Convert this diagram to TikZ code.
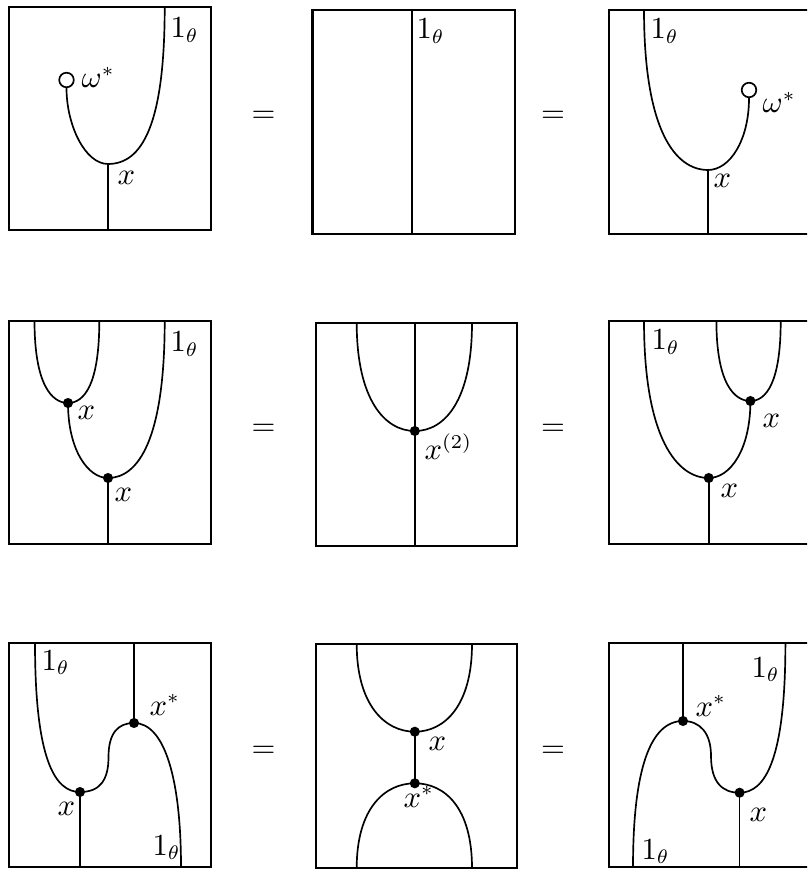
\documentclass[tikz,border=0pt]{standalone}
\usepackage{amsmath}
\usepackage{amssymb}
\usepackage{tikz}
\usetikzlibrary{positioning, calc}

\begin{document}
\begin{tikzpicture}[
        x=0.357pt, y=-0.357pt,
        font=\fontsize{10.5}{12}\selectfont,
        panel/.style={line width=0.75pt},
        strand/.style={line width=0.6pt},
        vdot/.style={circle, fill=black, inner sep=0pt, minimum size=3.6pt},
        unit/.style={circle, draw, line width=0.6pt, fill=white,
                    inner sep=0pt, minimum size=5.2pt},
        lbl/.style={anchor=base west, inner sep=0pt}
      ]
        \clip (0,0) rectangle (807,877);
        % row 1: counit
        \draw[panel] (9,7) rectangle (211,230);
        \coordinate (a1t) at (164.7,7);
        \coordinate (a1v) at (108,164);
        \coordinate (a1b) at (108,230);
        \node[unit] (a1w) at (66.5,80) {};
        \draw[strand] (a1t) .. controls (164.7,125) and (142,164) .. (a1v);
        \draw[strand] (a1w.south) .. controls (66.5,125) and (85,164) .. (a1v);
        \draw[strand] (a1v) -- (a1b);
        \node[lbl] (a1one) at (170,38) {$1_\theta$};
        \node[lbl] (a1om)  at (81,88)  {$\omega^*$};
        \node[lbl] (a1x)   at (117,185) {$x$};

        \node (eq1) at (263.5,117) {$=$};

        \draw[panel] (312.5,10) rectangle (515,234);
        \coordinate (b1t) at (411.7,10);
        \coordinate (b1b) at (411.7,234);
        \draw[strand] (b1t) -- (b1b);
        \node[lbl] (b1one) at (416,39) {$1_\theta$};

        \node (eq2) at (553,117) {$=$};

        \draw[panel] (609,10) rectangle (811,234);
        \coordinate (c1t) at (644,10);
        \coordinate (c1v) at (708,170);
        \coordinate (c1b) at (708,234);
        \node[unit] (c1w) at (749,90) {};
        \draw[strand] (c1t) .. controls (644,130) and (675,170) .. (c1v);
        \draw[strand] (c1w.south) .. controls (749,140) and (730,170) .. (c1v);
        \draw[strand] (c1v) -- (c1b);
        \node[lbl] (c1one) at (650,39)  {$1_\theta$};
        \node[lbl] (c1om)  at (762,113) {$\omega^*$};
        \node[lbl] (c1x)   at (713,188) {$x$};

        % row 2: coassociativity
        \draw[panel] (9,321) rectangle (211,544);
        \coordinate (a2p) at (34.5,321);
        \coordinate (a2q) at (99.3,321);
        \coordinate (a2u) at (68,403);
        \coordinate (a2t) at (164.7,321);
        \coordinate (a2v) at (108,478);
        \coordinate (a2b) at (108,544);
        \draw[strand] (a2p) .. controls (34.5,385) and (52,403) .. (a2u)
                            .. controls (84,403) and (99.3,385) .. (a2q);
        \draw[strand] (a2u) .. controls (68,450) and (88,478) .. (a2v)
                            .. controls (138,478) and (164.7,440) .. (a2t);
        \draw[strand] (a2v) -- (a2b);
        \node[lbl] (a2one) at (170,352) {$1_\theta$};
        \node[lbl] (a2x)   at (77,420)  {$x$};
        \node[lbl] (a2y)   at (114,502) {$x$};

        \node (eq3) at (263.5,430) {$=$};

        \draw[panel] (316,323) rectangle (517,546);
        \coordinate (b2t) at (414.8,323);
        \coordinate (b2b) at (414.8,546);
        \coordinate (b2v) at (414.8,431);
        \coordinate (b2p) at (356.7,323);
        \coordinate (b2q) at (472,323);
        \draw[strand] (b2t) -- (b2b);
        \draw[strand] (b2p) .. controls (356.7,400) and (385,431) .. (b2v)
                            .. controls (445,431) and (472,400) .. (b2q);
        \node[lbl] (b2x) at (424,460) {$x^{(2)}$};

        \node (eq4) at (553,430) {$=$};

        \draw[panel] (609,321) rectangle (811,544);
        \coordinate (c2t) at (644,321);
        \coordinate (c2v) at (708.7,478);
        \coordinate (c2b) at (708.7,544);
        \coordinate (c2p) at (716.4,321);
        \coordinate (c2q) at (780.7,321);
        \coordinate (c2u) at (750.4,401);
        \draw[strand] (c2p) .. controls (716.4,383) and (734,401) .. (c2u)
                            .. controls (766,401) and (780.7,383) .. (c2q);
        \draw[strand] (c2t) .. controls (644,440) and (678,478) .. (c2v)
                            .. controls (730,478) and (750.4,450) .. (c2u);
        \draw[strand] (c2v) -- (c2b);
        \node[lbl] (c2one) at (651,350) {$1_\theta$};
        \node[lbl] (c2x)   at (762,428) {$x$};
        \node[lbl] (c2y)   at (720,497) {$x$};

        % row 3: snake
        \draw[panel] (9,643) rectangle (211,867);
        \coordinate (a3t) at (35,643);
        \coordinate (a3v) at (80,792);
        \coordinate (a3b) at (80,867);
        \coordinate (a3m) at (108.5,757);
        \coordinate (a3u) at (134,723);
        \coordinate (a3s) at (134,643);
        \coordinate (a3r) at (181,867);
        \draw[strand] (a3t) .. controls (35,760) and (55,792) .. (a3v)
                            .. controls (100,792) and (108.5,780) .. (a3m)
                            .. controls (108.5,733) and (118,723) .. (a3u)
                            .. controls (165,723) and (181,780) .. (a3r);
        \draw[strand] (a3u) -- (a3s);
        \draw[strand] (a3v) -- (a3b);
        \node[lbl] (a3one) at (41,670)  {$1_\theta$};
        \node[lbl] (a3xs)  at (149,715) {$x^*$};
        \node[lbl] (a3x)   at (57,815)  {$x$};
        \node[lbl] (a3two) at (152,855) {$1_\theta$};

        \node (eq5) at (263.5,752) {$=$};

        \draw[panel] (316,644) rectangle (517,868);
        \coordinate (b3p) at (356.7,644);
        \coordinate (b3q) at (472,644);
        \coordinate (b3u) at (414.8,731.7);
        \coordinate (b3r) at (356.7,868);
        \coordinate (b3s) at (472,868);
        \coordinate (b3v) at (414.8,783.3);
        \draw[strand] (b3p) .. controls (356.7,705) and (385,731.7) .. (b3u)
                            .. controls (445,731.7) and (472,705) .. (b3q);
        \draw[strand] (b3r) .. controls (356.7,808) and (385,783.3) .. (b3v)
                            .. controls (445,783.3) and (472,808) .. (b3s);
        \draw[strand] (b3u) -- (b3v);
        \node[lbl] (b3x)  at (428,750) {$x$};
        \node[lbl] (b3xs) at (403,807) {$x^*$};

        \node (eq6) at (553,752) {$=$};

        \draw[panel] (609,643) rectangle (811,867);
        \coordinate (c3l) at (633,867);
        \coordinate (c3u) at (683,721);
        \coordinate (c3s) at (683,643);
        \coordinate (c3m) at (711,756);
        \coordinate (c3v) at (739.6,792.7);
        \coordinate (c3b) at (739.6,867);
        \coordinate (c3t) at (785.4,643);
        \draw[strand] (c3l) .. controls (633,770) and (650,721) .. (c3u)
                            .. controls (700,721) and (711,733) .. (c3m)
                            .. controls (711,782) and (722,792.7) .. (c3v)
                            .. controls (765,792.7) and (785.4,760) .. (c3t);
        \draw[strand] (c3u) -- (c3s);
        \draw[strand] (c3v) -- (c3b);
        \node[lbl] (c3one) at (751,677) {$1_\theta$};
        \node[lbl] (c3xs)  at (695,716) {$x^*$};
        \node[lbl] (c3x)   at (749,821) {$x$};
        \node[lbl] (c3two) at (641,859) {$1_\theta$};

        \foreach \v in {a2u,a2v,b2v,c2u,c2v,a3u,a3v,b3u,b3v,c3u,c3v}
          \node[vdot] (d-\v) at (\v) {};
      \end{tikzpicture}
\end{document}
